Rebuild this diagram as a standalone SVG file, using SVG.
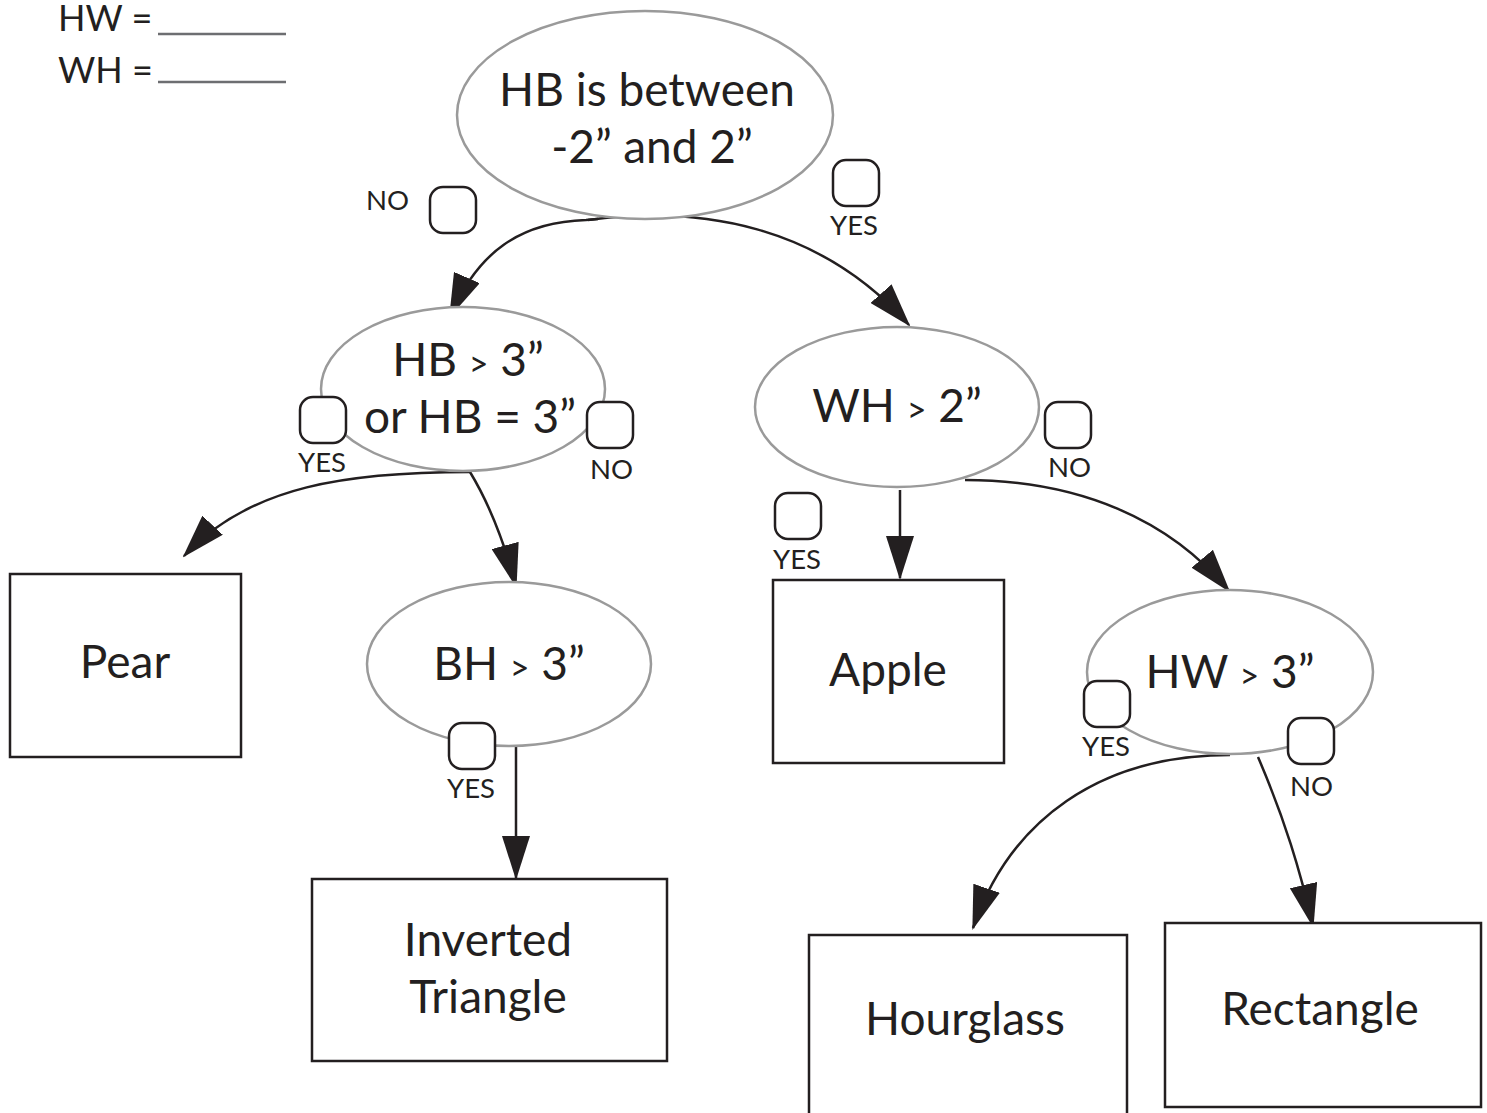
<svg xmlns="http://www.w3.org/2000/svg" width="1487" height="1113" viewBox="0 0 1487 1113">
<defs>
<style>
text{font-family:Lato,"Open Sans","DejaVu Sans",sans-serif;fill:#231f20}
.big{font-size:46px;text-anchor:middle}
.lbl{font-size:27.5px}
.gt{font-size:34px}
.ell{fill:#fff;stroke:#9a9a9a;stroke-width:2.5}
.box{fill:#fff;stroke:#231f20;stroke-width:2.5}
.chk{fill:#fff;stroke:#231f20;stroke-width:2.5}
.con{fill:none;stroke:#231f20;stroke-width:2.5;marker-end:url(#ah)}
.ul{stroke:#6d6e71;stroke-width:2.5}
</style>
<marker id="ah" viewBox="0 0 44 28" refX="42" refY="14" markerWidth="44" markerHeight="28" markerUnits="userSpaceOnUse" orient="auto">
<path d="M0,0 L44,14 L0,28 Z" fill="#231f20"/>
</marker>
</defs>
<rect width="1487" height="1113" fill="#fff"/>

<g id="vars">
<text x="58" y="31" style="font-size:36px">HW =</text>
<line class="ul" x1="158" y1="34" x2="286" y2="34"/>
<text x="58" y="83" style="font-size:36px">WH =</text>
<line class="ul" x1="158" y1="82" x2="286" y2="82"/>
</g>

<g id="connectors">
<path class="con" d="M598 219 L586 220 C520 222 478 252 450 316"/>
<path class="con" d="M588 220 C700 205 820 225 909 325"/>
<path class="con" d="M470 472 C350 472 250 485 184 556"/>
<path class="con" d="M470 472 C490 505 505 545 516 586"/>
<path class="con" d="M900 490 L900 578"/>
<path class="con" d="M965 480 C1080 480 1170 520 1229 591"/>
<path class="con" d="M516 743 L516 878"/>
<path class="con" d="M1230 755 C1100 755 1010 820 973 928"/>
<path class="con" d="M1258 757 C1285 820 1300 870 1313 926"/>
</g>

<g id="q1">
<ellipse class="ell" cx="645" cy="115" rx="188" ry="104"/>
<text class="big" x="647" y="106">HB is between</text>
<text class="big" x="652" y="163">-2” and 2”</text>
<text class="lbl" x="366" y="210">NO</text>
<rect class="chk" x="430" y="187" width="46" height="46" rx="13"/>
<rect class="chk" x="833" y="160" width="46" height="46" rx="13"/>
<text class="lbl" x="830" y="235">YES</text>
</g>

<g id="q2">
<ellipse class="ell" cx="463" cy="389" rx="142" ry="82"/>
<text class="big" x="468" y="376">HB <tspan class="gt">&gt;</tspan> 3”</text>
<text class="big" x="470" y="433">or HB = 3”</text>
<rect class="chk" x="300" y="397" width="46" height="46" rx="13"/>
<text class="lbl" x="298" y="472">YES</text>
<rect class="chk" x="587" y="402" width="46" height="46" rx="13"/>
<text class="lbl" x="590" y="479">NO</text>
</g>

<g id="q3">
<ellipse class="ell" cx="897" cy="407" rx="142" ry="80"/>
<text class="big" x="897" y="422">WH <tspan class="gt">&gt;</tspan> 2”</text>
<rect class="chk" x="1045" y="402" width="46" height="46" rx="13"/>
<text class="lbl" x="1048" y="477">NO</text>
<rect class="chk" x="775" y="493" width="46" height="46" rx="13"/>
<text class="lbl" x="773" y="569">YES</text>
</g>

<g id="pear">
<rect class="box" x="10" y="574" width="231" height="183"/>
<text class="big" x="125" y="678">Pear</text>
</g>

<g id="q4">
<ellipse class="ell" cx="509" cy="664" rx="142" ry="82"/>
<text class="big" x="509" y="680">BH <tspan class="gt">&gt;</tspan> 3”</text>
<rect class="chk" x="449" y="723" width="46" height="46" rx="13"/>
<text class="lbl" x="447" y="798">YES</text>
</g>

<g id="inverted">
<rect class="box" x="312" y="879" width="355" height="182"/>
<text class="big" x="488" y="956">Inverted</text>
<text class="big" x="488" y="1013">Triangle</text>
</g>

<g id="apple">
<rect class="box" x="773" y="580" width="231" height="183"/>
<text class="big" x="888" y="686">Apple</text>
</g>

<g id="q5">
<ellipse class="ell" cx="1230" cy="672" rx="143" ry="82"/>
<text class="big" x="1230" y="688">HW <tspan class="gt">&gt;</tspan> 3”</text>
<rect class="chk" x="1084" y="681" width="46" height="46" rx="13"/>
<text class="lbl" x="1082" y="756">YES</text>
<rect class="chk" x="1288" y="718" width="46" height="46" rx="13"/>
<text class="lbl" x="1290" y="796">NO</text>
</g>

<g id="hourglass">
<rect class="box" x="809" y="935" width="318" height="190"/>
<text class="big" x="965" y="1035">Hourglass</text>
</g>

<g id="rectangle">
<rect class="box" x="1165" y="923" width="316" height="184"/>
<text class="big" x="1320" y="1025">Rectangle</text>
</g>
</svg>
